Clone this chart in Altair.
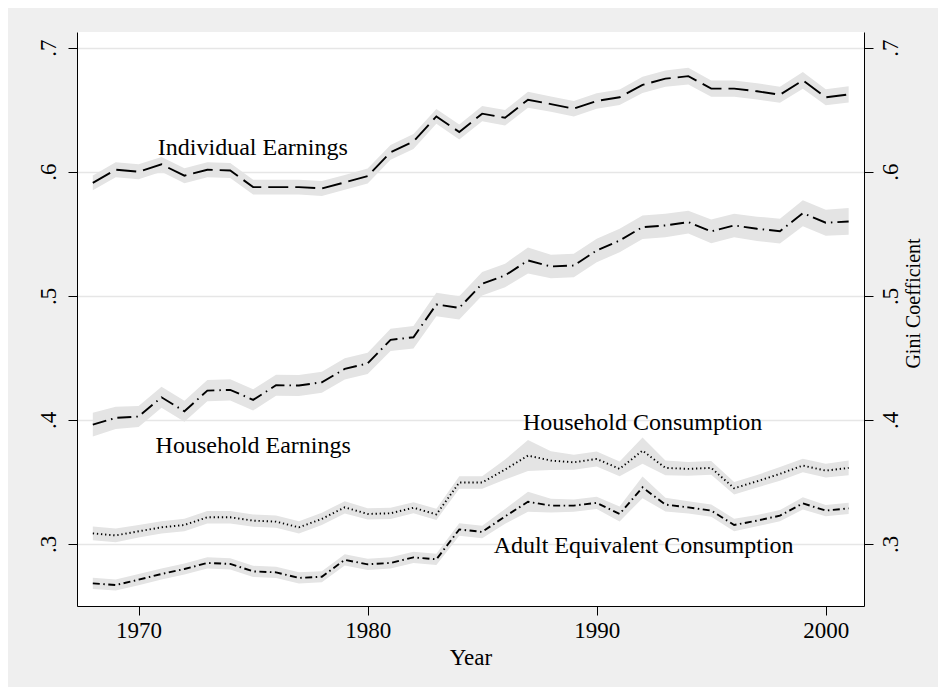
import altair as alt
import pandas as pd

years = list(range(1968, 2002))

series_names = ["Individual Earnings", "Household Earnings",
                "Household Consumption", "Adult Equivalent Consumption"]

ind_earn = [0.591, 0.6016, 0.600, 0.6059, 0.5968, 0.6016, 0.601, 0.5876, 0.5876, 0.5876,
            0.5865, 0.5914, 0.5965, 0.6156, 0.6244, 0.6446, 0.632, 0.6468, 0.6435, 0.658,
            0.6545, 0.6508, 0.657, 0.660, 0.670, 0.675, 0.677, 0.667, 0.667, 0.6648,
            0.662, 0.6736, 0.660, 0.6623]
ind_hw = [0.006, 0.006, 0.006, 0.006, 0.006, 0.006, 0.006, 0.006, 0.006, 0.006,
          0.006, 0.006, 0.006, 0.006, 0.006, 0.006, 0.006, 0.0062, 0.0062, 0.0065,
          0.0062, 0.0062, 0.0062, 0.0062, 0.0065, 0.0065, 0.0068, 0.0065, 0.0065, 0.0065,
          0.0065, 0.0068, 0.0065, 0.0065]

hh_earn = [0.3962, 0.4016, 0.4027, 0.4182, 0.4069, 0.4236, 0.4242, 0.4161, 0.4279, 0.4277,
           0.4303, 0.4411, 0.4455, 0.4645, 0.4666, 0.493, 0.4903, 0.5097, 0.5164, 0.5285,
           0.5236, 0.5244, 0.5365, 0.5446, 0.5553, 0.5567, 0.5594, 0.5519, 0.5567, 0.554,
           0.5521, 0.5666, 0.5589, 0.5599]
hh_earn_hw = [0.0095, 0.009, 0.0085, 0.0085, 0.0085, 0.0085, 0.0085, 0.0085, 0.0085, 0.0085,
              0.0085, 0.0085, 0.0085, 0.009, 0.009, 0.0094, 0.0094, 0.0095, 0.0095, 0.0105,
              0.0095, 0.0095, 0.0095, 0.0095, 0.0095, 0.0095, 0.0092, 0.0095, 0.0095, 0.0098,
              0.010, 0.0105, 0.0105, 0.0108]

hh_cons = [0.3085, 0.3069, 0.3102, 0.3134, 0.3153, 0.3215, 0.3215, 0.3188, 0.318, 0.3134,
           0.3202, 0.3295, 0.3242, 0.3247, 0.3292, 0.3238, 0.3495, 0.3495, 0.360, 0.3712,
           0.3672, 0.3658, 0.3685, 0.3605, 0.3752, 0.3613, 0.3605, 0.3613, 0.3449, 0.3505,
           0.3565, 0.3632, 0.3591, 0.3613]
hh_cons_hw = [0.0055, 0.0055, 0.005, 0.005, 0.005, 0.005, 0.005, 0.005, 0.005, 0.005,
              0.005, 0.005, 0.0045, 0.0045, 0.0045, 0.0045, 0.005, 0.005, 0.008, 0.0125,
              0.0075, 0.006, 0.006, 0.006, 0.0105, 0.006, 0.0055, 0.0055, 0.005, 0.005,
              0.0055, 0.0055, 0.0055, 0.006]

adult_cons = [0.2682, 0.2669, 0.2712, 0.2758, 0.2798, 0.2847, 0.2839, 0.2779, 0.2771, 0.2726,
              0.2736, 0.2872, 0.2836, 0.2847, 0.2892, 0.2876, 0.3117, 0.3097, 0.3222, 0.334,
              0.3309, 0.3309, 0.3331, 0.3242, 0.3456, 0.3317, 0.3295, 0.3269, 0.3153, 0.3188,
              0.3228, 0.3327, 0.3269, 0.3287]
adult_hw = [0.0045, 0.0045, 0.0045, 0.0045, 0.0045, 0.0045, 0.0045, 0.0045, 0.0045, 0.0045,
            0.0045, 0.0045, 0.0045, 0.0045, 0.0045, 0.0045, 0.005, 0.005, 0.006, 0.008,
            0.0055, 0.005, 0.005, 0.006, 0.0087, 0.0055, 0.005, 0.005, 0.005, 0.0045,
            0.0045, 0.005, 0.0045, 0.0045]

label_x = [1970.84, 1970.74, 1986.78, 1985.5]
label_y = [0.6131, 0.3731, 0.3922, 0.2924]

dash_styles = [[20, 7], [14, 5, 1.5, 5], [1.3, 2.8], [7, 3.5, 1.5, 3.5]]

rows = []
for name, vals, hws in zip(series_names,
                           [ind_earn, hh_earn, hh_cons, adult_cons],
                           [ind_hw, hh_earn_hw, hh_cons_hw, adult_hw]):
    for yr, v, h in zip(years, vals, hws):
        rows.append({"year": yr, "series": name, "value": v, "lo": v - h, "hi": v + h})
df = pd.DataFrame(rows)
lab_df = pd.DataFrame({"x": label_x, "y": label_y, "text": series_names})

FONT = "Liberation Serif"
x_scale = alt.Scale(domain=[1967.31, 2001.67], nice=False, zero=False)
y_scale = alt.Scale(domain=[0.25, 0.7126], nice=False, zero=False)
y_ticks = [0.3, 0.4, 0.5, 0.6, 0.7]
lab_expr = "replace(format(datum.value, '.1f'), '0.', '.')"

x_axis = alt.Axis(values=[1970, 1980, 1990, 2000], format="d", title="Year",
                  grid=False, domainColor="black", tickColor="black", tickSize=9,
                  labelFont=FONT, labelFontSize=23, labelColor="black", labelPadding=4,
                  titleFont=FONT, titleFontSize=23, titleFontWeight="normal",
                  titleColor="black", titlePadding=4)

left_axis = alt.Axis(values=y_ticks, labelExpr=lab_expr, title=None, orient="left",
                     grid=True, gridColor="#e6e6e6", gridWidth=1.5,
                     domainColor="black", tickColor="black", tickSize=9,
                     labelAngle=270, labelFont=FONT, labelFontSize=23,
                     labelColor="black", labelPadding=8)

right_axis = alt.Axis(values=y_ticks, labelExpr=lab_expr, title="Gini Coefficient",
                      orient="right", grid=False,
                      domainColor="black", tickColor="black", tickSize=9,
                      labelAngle=270, labelFont=FONT, labelFontSize=23,
                      labelColor="black", labelPadding=6,
                      titleAngle=270, titleFont=FONT, titleFontSize=20,
                      titleFontWeight="normal", titleColor="black",
                      titleX=49, titleY=271, titleAlign="center", titleBaseline="middle")

X = alt.X("year:Q", scale=x_scale, axis=x_axis)

bands = alt.Chart(df).mark_area(color="#e4e4e4", opacity=1).encode(
    x=X,
    y=alt.Y("lo:Q", scale=y_scale, axis=left_axis),
    y2="hi:Q",
    detail="series:N",
)

lines = alt.Chart(df).mark_line(color="black", strokeWidth=1.9).encode(
    x=X,
    y=alt.Y("value:Q", scale=y_scale),
    detail="series:N",
    strokeDash=alt.StrokeDash("series:N",
                              scale=alt.Scale(domain=series_names, range=dash_styles),
                              legend=None),
)

texts = alt.Chart(lab_df).mark_text(font=FONT, fontSize=24, align="left",
                                    baseline="alphabetic", color="black").encode(
    x=alt.X("x:Q", scale=x_scale),
    y=alt.Y("y:Q", scale=y_scale),
    text="text:N",
)

left = alt.layer(bands, lines, texts)

right = alt.Chart(df).mark_point(opacity=0).encode(
    x=alt.X("year:Q", scale=x_scale),
    y=alt.Y("value:Q", scale=y_scale, axis=right_axis),
)

chart = alt.layer(left, right).resolve_scale(y="independent").properties(
    width=787, height=574,
    autosize=alt.AutoSizeParams(type="none"),
    padding={"left": 69, "top": 24, "right": 74, "bottom": 81},
    background="#efefef",
).configure_view(stroke=None, fill="white")

chart.save("out.html", embed_options={"renderer": "svg", "actions": False})
